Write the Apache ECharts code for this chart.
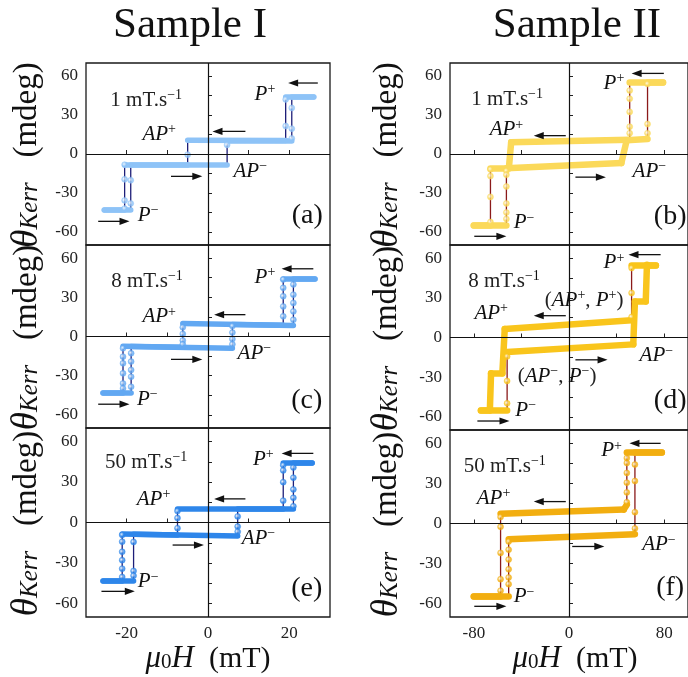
<!DOCTYPE html>
<html><head><meta charset="utf-8">
<script src="https://cdn.jsdelivr.net/npm/echarts@6/dist/echarts.min.js"></script>
<style>html,body{margin:0;padding:0;background:#fff}#c{width:688px;height:677px}</style>
</head><body><div id="c"></div>
<script>
// ================= DATA =================
const rates = [1, 8, 50];                       // sweep rates, mT.s^-1
const xTicksI = [-20, -10, 0, 10, 20];
const xLabelsI = [-20, 0, 20];
const xTicksII = [-80, -40, 0, 40, 80];
const xLabelsII = [-80, 0, 80];
const yTicks = [-60, -45, -30, -15, 0, 15, 30, 45, 60];
const yLabels = [-60, -30, 0, 30, 60];

// Sample I, 1 mT/s  [mu0H (mT), theta_Kerr (mdeg)]
const aUp   = [[-25.5,-43],[-19,-43],[-19,-8],[4.7,-8.2],[4.7,10.5],[20.6,10.3],[20.6,44.2],[26,44.2]];
const aDown = [[26,44.2],[19.1,44.2],[19.1,10.3],[-5,10.6],[-5,-8],[-20.5,-8],[-20.5,-43],[-25.5,-43]];
const aDots = [[-20.5,-8.2],[-20.5,-19.5],[-20.5,-35.7],[-20.5,-42],[-19,-20.2],[-19,-38],[-5,-0.5],[4.7,7],
               [19.1,21.5],[19.1,42],[20.6,19.5],[20.6,35.4],[20.6,12]];
// Sample I, 8 mT/s
const cUp   = [[-25.8,-43],[-18.9,-43],[-18.9,-7.6],[6,-9],[6,9.2],[21,8.5],[21,44.2],[26.3,44.2]];
const cDown = [[26.3,44.2],[18.5,44.2],[18.5,8.6],[-6.2,10],[-6.2,-8.3],[-20.9,-7.5],[-20.9,-43],[-25.8,-43]];
const cDots = [[-20.9,-9],[-20.9,-15.4],[-20.9,-20.5],[-20.9,-28.2],[-20.9,-35.9],[-20.9,-39.7],
               [-18.9,-12.8],[-18.9,-19.2],[-18.9,-25.6],[-18.9,-30.8],[-18.9,-38.5],
               [-6.2,7],[-6.2,2],[-6.2,-3],[-6.2,-6],[6,8],[6,3],[6,-2],[6,-6],
               [18.5,43.6],[18.5,37.2],[18.5,30.8],[18.5,23],[18.5,15.4],
               [21,39.8],[21,32],[21,25.7],[21,19.2],[21,12.8]];
// Sample I, 50 mT/s
const eUp   = [[-25.8,-43],[-18.3,-43],[-18.3,-8.7],[7.3,-10],[7.3,10],[21,10],[21,44.4],[25.6,44.4]];
const eDown = [[25.6,44.4],[18.5,44.4],[18.5,10],[-7.5,10],[-7.5,-9.2],[-21.1,-8.5],[-21.1,-43],[-25.8,-43]];
const eDots = [[-21.1,-9.2],[-21.1,-14.2],[-21.1,-21.7],[-21.1,-27.9],[-21.1,-34.2],[-21.1,-40.4],
               [-18.3,-14.4],[-18.3,-35.9],[-18.3,-39.4],[-7.5,8.5],[-7.5,3.3],[-7.5,-4.2],
               [7.3,4.5],[7.3,-3],[7.3,-6.8],[18.5,42.5],[18.5,38.6],[18.5,29.9],[18.5,16.2],
               [21,40.7],[21,33.2],[21,24.5],[21,18.3],[21,12]];
// Sample II, 1 mT/s
const bUp   = [[-80,-54.5],[-52.6,-54.5],[-52.6,-11],[44,-7],[48.5,10.5],[66,11.5],[66,55],[79,55]];
const bDown = [[79,55],[51,55],[51,11],[-48.6,9],[-50.5,-10.6],[-66,-10.8],[-66,-54.5],[-80,-54.5]];
const bDots = [[-66,-11.9],[-66,-17],[-66,-33],[-66,-52.4],[-52.6,-13],[-52.6,-16],[-52.6,-25],[-52.6,-38],
               [-52.6,-45],[-52.6,-50],[51,48.8],[51,42.5],[51,32.4],[51,21],[51,16],[66,53.9],[66,23],[66,16]];
// Sample II, 8 mT/s
const dUp   = [[-74,-55],[-52,-55],[-52,-11],[54,-5.2],[55.4,27.3],[64.5,27.3],[65.5,55],[73,55]];
const dDown = [[73,55],[52.6,55],[52.6,13],[-54,6.4],[-56,-27],[-65.5,-27],[-66.5,-55],[-74,-55]];
const dDots = [[-52,-14.4],[-52,-32.9],[-52,-49.8],[52.6,52.6],[52.6,33.7],[52.6,15.5]];
// Sample II, 50 mT/s
const fUp   = [[-80,-54.4],[-50.7,-54.4],[-50.7,-11.7],[55.4,-8],[55.4,53.4],[78,53.4]];
const fDown = [[78,53.4],[48.6,53.4],[48.6,14],[46,10.4],[-57.5,7.3],[-57.5,-54.4],[-80,-54.4]];
const fDots = [[-57.5,4.9],[-57.5,-2.5],[-57.5,-22],[-57.5,-41.7],[-57.5,-50.3],
               [-50.7,-13.5],[-50.7,-19.6],[-50.7,-27],[-50.7,-34.3],[-50.7,-40.4],[-50.7,-45.4],
               [55.4,-3.7],[55.4,8.5],[55.4,31.8],[55.4,44.1],
               [48.6,15.9],[48.6,23.3],[48.6,30.6],[48.6,37.9],[48.6,45.3],[48.6,49]];

// ================= ANNOTATION POSITIONS (data coords) =================
const annA = {rate:[-15.2,41.2], Pp:[14,46], APp:[-12,14.8], APm:[10.4,-13.6], Pm:[-14.7,-47.2], letter:[24.4,-47.2],
  arrows:[[27,54.6,19.7,54.6],[9.2,17.4,1.1,17.4],[-9.1,-17.2,-1.4,-17.2],[-27,-51.8,-19.3,-51.8]]};
const annC = {rate:[-15,42.3], Pp:[14,45], APp:[-12,15], APm:[11.4,-12.8], Pm:[-14.9,-48], letter:[24.3,-49],
  arrows:[[25.9,51.8,18.1,51.8],[9.2,16.7,1.5,16.7],[-9.1,-17.5,-1.4,-17.5],[-27,-51.8,-19.3,-51.8]]};
const annE = {rate:[-15.2,44.5], Pp:[13.6,46.9], APp:[-13.4,17], APm:[12.4,-11.7], Pm:[-14.7,-44], letter:[24.3,-49],
  arrows:[[25.9,51.2,18.1,51.2],[9.2,17.5,1.5,17.5],[-8.7,-16.7,-1,-16.7],[-26.2,-51,-18,-51]]};
const annB = {rate:[-52,41.8], Pp:[37.8,54], APp:[-52.6,18.5], APm:[67.5,-13.2], Pm:[-37.7,-53], letter:[85,-48],
  arrows:[[79.7,62,52.6,62],[-2.7,14.1,-29.6,14.1],[5.4,-17.8,31,-17.8],[-79.6,-63.3,-52.6,-63.3]]};
const annD = {rate:[-54.6,42.5], Pp:[37.8,56.4], APp:[-65.4,18.5], APm:[73.4,-13.9], Pm:[-36.4,-54.9], letter:[85,-48],
  extraP:[12.7,28], extraM:[-10,-29.6],
  arrows:[[77,62.7,50,62.7],[-2.7,16.5,-29.6,16.5],[5.4,-16.9,32.4,-16.9],[-77,-63.2,-50,-63.2]]};
const annF = {rate:[-54,42.9], Pp:[35.8,54.4], APp:[-63.4,19.1], APm:[75.6,-16], Pm:[-37.7,-55], letter:[85,-48],
  arrows:[[77,60,50.8,60],[-2.7,16.4,-29.6,16.4],[2.7,-17.2,29.7,-17.2],[-79.6,-62,-52.6,-62]]};

// ================= STYLE / LAYOUT =================
const SERIF = "'Liberation Serif', 'DejaVu Serif', serif";
const panels = [
  {up:aUp, down:aDown, dots:aDots, ann:annA, rate:rates[0], letter:'(a)', grid:{left:86,top:63,width:244,height:182}, x:[-30,30], xt:xTicksI, xl:xLabelsI, showX:false, band:'#8ec3f7', line:'#1e1e78'},
  {up:cUp, down:cDown, dots:cDots, ann:annC, rate:rates[1], letter:'(c)', grid:{left:86,top:245,width:244,height:183}, x:[-30,30], xt:xTicksI, xl:xLabelsI, showX:false, band:'#62a8f2', line:'#1e1e78'},
  {up:eUp, down:eDown, dots:eDots, ann:annE, rate:rates[2], letter:'(e)', grid:{left:86,top:428,width:244,height:189}, x:[-30,30], xt:xTicksI, xl:xLabelsI, showX:true, band:'#2e86ea', line:'#1e1e78'},
  {up:bUp, down:bDown, dots:bDots, ann:annB, rate:rates[0], letter:'(b)', grid:{left:450,top:63,width:244,height:182}, x:[-100,100], xt:xTicksII, xl:xLabelsII, showX:false, band:'#fbd95a', line:'#8b1a1a'},
  {up:dUp, down:dDown, dots:dDots, ann:annD, rate:rates[1], letter:'(d)', grid:{left:450,top:245,width:244,height:185}, x:[-100,100], xt:xTicksII, xl:xLabelsII, showX:false, band:'#f9c51c', line:'#8b1a1a'},
  {up:fUp, down:fDown, dots:fDots, ann:annF, rate:rates[2], letter:'(f)', grid:{left:450,top:430,width:244,height:187}, x:[-100,100], xt:xTicksII, xl:xLabelsII, showX:true, band:'#f2ae10', line:'#8b1a1a'}
];

function bandSegments(branch) {
  const out = [];
  for (let k = 0; k < branch.length - 1; k++) {
    if (branch[k][0] !== branch[k+1][0]) out.push({coords:[branch[k], branch[k+1]]});
  }
  return out;
}

const grids = [], xAxes = [], yAxes = [], series = [];
panels.forEach((p, i) => {
  grids.push(Object.assign({show:true, borderColor:'#1a1a1a', borderWidth:1.3, backgroundColor:'rgba(0,0,0,0)'}, p.grid));
  xAxes.push({gridIndex:i, type:'value', min:p.x[0], max:p.x[1],
    axisLine:{show:false}, splitLine:{show:false},
    axisTick:{show:true, inside:true, length:4, customValues:p.xt, lineStyle:{color:'#222', width:1}},
    axisLabel:{show:p.showX, customValues:p.xl, fontFamily:SERIF, fontSize:17, color:'#222', margin:8}});
  yAxes.push({gridIndex:i, type:'value', min:-70, max:70,
    axisLine:{show:false}, splitLine:{show:false},
    axisTick:{show:true, inside:true, length:4, customValues:yTicks, lineStyle:{color:'#222', width:1}},
    axisLabel:{show:true, customValues:yLabels, fontFamily:SERIF, fontSize:17, color:'#222', margin:8}});
  const light = p.band;
  series.push({type:'line', xAxisIndex:i, yAxisIndex:i, data:p.up, showSymbol:false, silent:true, z:2,
    lineStyle:{width:1.3, color:p.line},
    markLine:{silent:true, symbol:'none', label:{show:false}, animation:false,
      lineStyle:{color:'#111', width:1.2, type:'solid'}, data:[{xAxis:0},{yAxis:0}]}});
  series.push({type:'line', xAxisIndex:i, yAxisIndex:i, data:p.down, showSymbol:false, silent:true, z:2,
    lineStyle:{width:1.3, color:p.line}});
  series.push({type:'lines', coordinateSystem:'cartesian2d', xAxisIndex:i, yAxisIndex:i, silent:true, z:3,
    data: bandSegments(p.up).concat(bandSegments(p.down)),
    lineStyle:{width: i < 3 ? 5.5 : 6.5, color:p.band, opacity:1, cap:'round', join:'round'}});
  series.push({type:'scatter', xAxisIndex:i, yAxisIndex:i, data:p.dots, symbolSize:6, silent:true, z:4,
    itemStyle:{color:{type:'radial', x:0.4, y:0.4, r:0.7, colorStops:[{offset:0,color:'#ffffff'},{offset:0.5,color:light},{offset:1,color:light}]},
      borderColor:light, borderWidth:0.5}});
});

const chart = echarts.init(document.getElementById('c'), null, {renderer:'canvas', width:688, height:677});
chart.setOption({animation:false, backgroundColor:'#ffffff', textStyle:{fontFamily:SERIF}, grid:grids, xAxis:xAxes, yAxis:yAxes, series:series});

// ================= TEXT / ARROWS =================
const g = [];
function txt(x, y, text, rich, extra) {
  g.push(Object.assign({type:'text', x:x, y:y, silent:true, z:100,
    style:{text:text, rich:rich, align:'center', verticalAlign:'middle', fill:'#111', fontFamily:SERIF}}, extra || {}));
}
const R = {
  n:{fontFamily:SERIF, fontSize:21, lineHeight:24, fill:'#222'},
  i:{fontFamily:SERIF, fontSize:21, fontStyle:'italic', lineHeight:24, fill:'#111'},
  sup:{fontFamily:SERIF, fontSize:14, lineHeight:14, verticalAlign:'top', fill:'#111'},
  big:{fontFamily:SERIF, fontSize:28, lineHeight:30, fill:'#111'}
};
function arrow(x1, y1, x2, y2) {
  const dx = x2 - x1, dy = y2 - y1, L = Math.hypot(dx, dy), ux = dx / L, uy = dy / L;
  const hl = 10, hw = 3.6;
  const bx = x2 - ux * hl, by = y2 - uy * hl;
  g.push({type:'line', silent:true, z:100, shape:{x1:x1, y1:y1, x2:bx + ux, y2:by + uy}, style:{stroke:'#111', lineWidth:1.3}});
  g.push({type:'polygon', silent:true, z:100, shape:{points:[[x2,y2],[bx - uy*hw, by + ux*hw],[bx + uy*hw, by - ux*hw]]}, style:{fill:'#111'}});
}
panels.forEach((p, i) => {
  const P = (v) => chart.convertToPixel({gridIndex:i}, v);
  const a = p.ann;
  let q = P(a.rate); txt(q[0], q[1], '{n|' + p.rate + ' mT.s}{sup|−1}', R);
  q = P(a.Pp);  txt(q[0], q[1], '{i|P}{sup|+}', R);
  q = P(a.APp); txt(q[0], q[1], '{i|AP}{sup|+}', R);
  q = P(a.APm); txt(q[0], q[1], '{i|AP}{sup|−}', R);
  q = P(a.Pm);  txt(q[0], q[1], '{i|P}{sup|−}', R);
  q = P(a.letter); txt(q[0], q[1], '{big|' + p.letter + '}', R);
  if (a.extraP) { q = P(a.extraP); txt(q[0], q[1], '{n|(}{i|AP}{sup|+}{n|, }{i|P}{sup|+}{n|)}', R); }
  if (a.extraM) { q = P(a.extraM); txt(q[0], q[1], '{n|(}{i|AP}{sup|−}{n|, }{i|P}{sup|−}{n|)}', R); }
  a.arrows.forEach(ar => { const s = P([ar[0], ar[1]]), e = P([ar[2], ar[3]]); arrow(s[0], s[1], e[0], e[1]); });
  // y-axis title
  const cy = p.grid.top + p.grid.height / 2 + 1;
  const cx = p.grid.left < 200 ? 27 : 387;
  txt(cx, cy, '{t|θ}{s|Kerr}{n|   (mdeg)}', {
    t:{fontFamily:SERIF, fontSize:37, fontStyle:'italic', lineHeight:32, fill:'#111'},
    s:{fontFamily:SERIF, fontSize:25, fontStyle:'italic', lineHeight:32, verticalAlign:'bottom', fill:'#111'},
    n:{fontFamily:SERIF, fontSize:33, lineHeight:32, fill:'#111'}
  }, {rotation: Math.PI / 2});
});
// x-axis titles
const xr = {
  i:{fontFamily:SERIF, fontSize:31, fontStyle:'italic', lineHeight:28, fill:'#111'},
  sub:{fontFamily:SERIF, fontSize:21, lineHeight:28, verticalAlign:'bottom', fill:'#111'},
  n:{fontFamily:SERIF, fontSize:30, lineHeight:28, fill:'#111'}
};
txt(208, 659, '{i|μ}{sub|0}{i|H}{n|  (mT)}', xr);
txt(575, 659, '{i|μ}{sub|0}{i|H}{n|  (mT)}', xr);
// Column titles
const tr = {n:{fontFamily:SERIF, fontSize:43, lineHeight:46, fill:'#111'}};
txt(190, 26, '{n|Sample I}', tr);
txt(577, 26, '{n|Sample II}', tr);
chart.setOption({graphic: g});
</script></body></html>
